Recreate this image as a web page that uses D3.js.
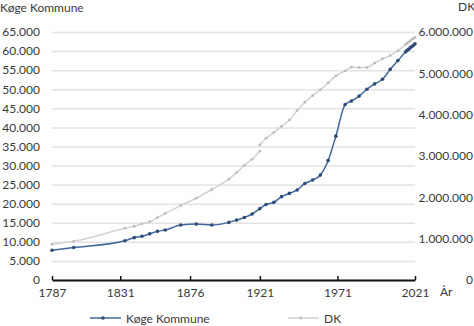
<!DOCTYPE html>
<html>
<head>
<meta charset="utf-8">
<script src="https://cdn.jsdelivr.net/npm/d3@7"></script>
<style>
  html, body { margin: 0; padding: 0; background: #fff; }
  svg { display: block; font-family: Lato, "Open Sans", sans-serif; }
  text { fill: #3a3a3a; font-size: 12px; }
</style>
</head>
<body>
<svg id="chart" width="474" height="326"></svg>
<script>
// Population of Køge Kommune (left axis) and Denmark (right axis)
const kogeYears = [1787, 1801, 1834, 1840, 1845, 1850, 1855, 1860, 1870, 1880, 1890, 1901, 1906, 1911, 1916,
  1921, 1925, 1930, 1935, 1940, 1945, 1950, 1955, 1960, 1965, 1970, 1976, 1980, 1985, 1990, 1995, 2000,
  2005, 2010, 2015, 2016, 2017, 2018, 2019, 2020, 2021];
const kogeValues = [7800, 8500, 10300, 11100, 11450, 12100, 12750, 13100, 14400, 14650, 14400, 15100, 15700, 16400, 17300,
  18700, 19800, 20350, 21850, 22700, 23600, 25300, 26200, 27500, 31300, 37700, 46000, 46900, 48200, 50000, 51400, 52600,
  55200, 57500, 59800, 60200, 60500, 60900, 61200, 61500, 61900];

// Denmark: the series breaks in 1921 (old borders / borders after 1920)
const dkYears = [1787, 1801, 1834, 1840, 1845, 1850, 1855, 1860, 1870, 1880, 1890, 1901, 1906, 1911, 1916, 1921,
  null,
  1921, 1925, 1930, 1935, 1940, 1945, 1950, 1955, 1960, 1965, 1970, 1976, 1980, 1985, 1990, 1995, 2000,
  2005, 2010, 2015, 2016, 2017, 2018, 2019, 2020, 2021];
const dkValues = [864000, 936000, 1250000, 1300000, 1360000, 1410000, 1510000, 1610000, 1800000, 1980000, 2190000, 2440000, 2600000, 2770000, 2920000, 3120000,
  null,
  3270000, 3430000, 3570000, 3720000, 3870000, 4100000, 4300000, 4460000, 4600000, 4770000, 4940000, 5060000, 5150000, 5140000, 5140000, 5250000, 5350000,
  5430000, 5550000, 5700000, 5730000, 5760000, 5790000, 5820000, 5840000, 5870000];

const yearTicks = [1787, 1831, 1876, 1921, 1971, 2021];
const leftTicks = d3.range(0, 65001, 5000);
const rightTicks = d3.range(0, 6000001, 1000000);
const leftTitle = "Køge Kommune";
const rightTitle = "DK";
const xTitle = "År";
const seriesNames = ["Køge Kommune", "DK"];

const kogeColor = "#3f6898";
const kogeMarker = "#2c4b78";
const dkColor = "#d2d2d2";
const dkMarker = "#bdbdbd";

const locale = d3.formatLocale({ decimal: ",", thousands: ".", grouping: [3], currency: ["", ""] });
const fmt = locale.format(",d");

const svg = d3.select("#chart");
const plotLeft = 52, plotRight = 415, plotTop = 32, plotBottom = 280;

const x = d3.scaleLinear().domain([1787, 2021]).range([plotLeft, plotRight]);
const yL = d3.scaleLinear().domain([0, 65000]).range([plotBottom, plotTop]);
const yR = d3.scaleLinear().domain([0, 6000000]).range([plotBottom, plotTop]);

// Gridlines and left axis labels
const gL = svg.append("g").attr("transform", `translate(${plotLeft},0)`)
  .call(d3.axisLeft(yL).tickValues(leftTicks).tickFormat(fmt).tickSize(-(plotRight - plotLeft)).tickPadding(12));
gL.select(".domain").remove();
gL.selectAll(".tick line").attr("stroke", "#e3e3e3").attr("stroke-width", 1.5);
gL.selectAll(".tick text").style("font-family", "Lato, sans-serif").style("font-size", "12px").attr("fill", "#3a3a3a");

// Right axis labels
const gR = svg.append("g").attr("transform", `translate(${plotRight},0)`)
  .call(d3.axisRight(yR).tickValues(rightTicks).tickFormat(fmt).tickSize(0));
gR.select(".domain").remove();
gR.selectAll(".tick text").attr("text-anchor", "end").attr("x", 58)
  .style("font-family", "Lato, sans-serif").style("font-size", "12px").attr("fill", "#3a3a3a");

// Lines
const kogeData = kogeYears.map((yr, i) => ({ yr, v: kogeValues[i] }));
const dkData = dkYears.map((yr, i) => ({ yr, v: dkValues[i] }));

const dkLine = d3.line().defined(d => d.v != null).x(d => x(d.yr)).y(d => yR(d.v)).curve(d3.curveMonotoneX);
const kogeLine = d3.line().x(d => x(d.yr)).y(d => yL(d.v)).curve(d3.curveMonotoneX);

svg.append("path").datum(dkData).attr("d", dkLine)
  .attr("fill", "none").attr("stroke", dkColor).attr("stroke-width", 1.5);
svg.append("g").selectAll("circle").data(dkData.filter(d => d.v != null)).join("circle")
  .attr("cx", d => x(d.yr)).attr("cy", d => yR(d.v)).attr("r", 1.4).attr("fill", dkMarker);

svg.append("path").datum(kogeData).attr("d", kogeLine)
  .attr("fill", "none").attr("stroke", kogeColor).attr("stroke-width", 1.5);
svg.append("g").selectAll("circle").data(kogeData).join("circle")
  .attr("cx", d => x(d.yr)).attr("cy", d => yL(d.v)).attr("r", 1.8).attr("fill", kogeMarker);

// X axis with ticks pointing up
const gX = svg.append("g").attr("transform", `translate(0,${plotBottom})`)
  .call(d3.axisBottom(x).tickValues(yearTicks).tickFormat(d3.format("d")).tickSizeInner(-4).tickSizeOuter(0).tickPadding(8));
gX.select(".domain").attr("stroke", "#111").attr("stroke-width", 2);
gX.selectAll(".tick line").attr("stroke", "#111").attr("stroke-width", 1.5);
gX.selectAll(".tick text").style("font-family", "Lato, sans-serif").style("font-size", "12px").attr("fill", "#3a3a3a");

// Titles
svg.append("text").attr("x", 0).attr("y", 12).text(leftTitle);
svg.append("text").attr("x", 458).attr("y", 11).text(rightTitle);
svg.append("text").attr("x", 440).attr("y", 296).text(xTitle);

// Legend
const legend = [
  { name: seriesNames[0], color: kogeColor, marker: kogeMarker, r: 1.8, x0: 90 },
  { name: seriesNames[1], color: dkColor, marker: dkMarker, r: 1.4, x0: 288 }
];
const lg = svg.append("g").selectAll("g").data(legend).join("g")
  .attr("transform", d => `translate(${d.x0},318)`);
lg.append("line").attr("x1", 0).attr("x2", 31).attr("y1", 0).attr("y2", 0)
  .attr("stroke", d => d.color).attr("stroke-width", 1.5);
lg.append("circle").attr("cx", 13).attr("cy", 0).attr("r", d => d.r).attr("fill", d => d.marker);
lg.append("text").attr("x", 36).attr("y", 4.5).text(d => d.name);
</script>
</body>
</html>
